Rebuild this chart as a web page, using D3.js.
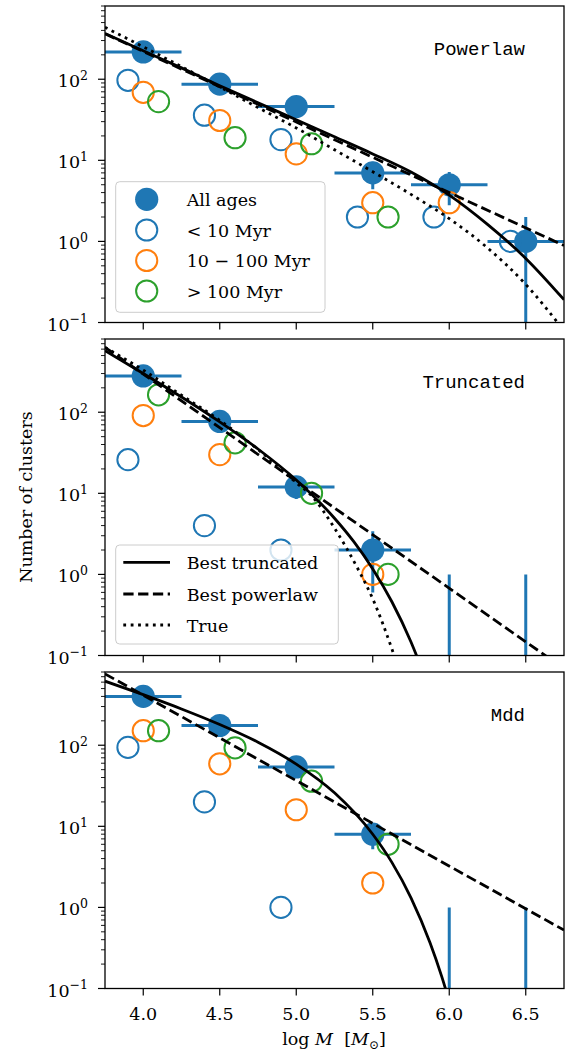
<!DOCTYPE html>
<html><head><meta charset="utf-8">
<script src="https://cdn.jsdelivr.net/npm/d3@7"></script>
<style>body{margin:0;background:#fff} svg{display:block} text{white-space:pre}</style>
</head><body>
<svg id="chart" width="566" height="1055"></svg>
<script>
// ---------------- data ----------------
const massBins = [4.0, 4.5, 5.0, 5.5, 6.0, 6.5];
const binHalfWidth = 0.25;
const ageOffsets = [-0.1, 0.0, 0.1];
const panelNames = ["Powerlaw", "Truncated", "Mdd"];
const xTicks = [4.0, 4.5, 5.0, 5.5, 6.0, 6.5];
const xDomain = [3.75, 6.75];
const yDomain = [0.1, 800];
const yMajorTicks = [0.1, 1, 10, 100];
const yTickExponents = ["\u22121", "0", "1", "2"];
const ageLabels = ["All ages", "< 10 Myr", "10 \u2212 100 Myr", "> 100 Myr"];
const fitLabels = ["Best truncated", "Best powerlaw", "True"];

// Powerlaw panel
const powerlawAll   = [217, 87, 46, 7, 5, 1];
const powerlawErr   = [14.7, 9.3, 6.8, 2.6, 2.2, 1];
const powerlawYoung = [97, 36, 18, 2, 2, 1];
const powerlawMid   = [69, 31, 12, 3, 3, 0];
const powerlawOld   = [53, 19, 16, 2, 0, 0];
const powerlawTruncX = [3.75, 4.0, 4.25, 4.5, 4.75, 5.0, 5.25, 5.5, 5.75, 6.0, 6.25, 6.5, 6.75];
const powerlawTruncY = [367, 224, 138, 83.2, 51.3, 31.6, 19.5, 12.0, 7.16, 3.72, 1.62, 0.617, 0.191];
const powerlawPowX = [3.75, 6.75];
const powerlawPowY = [363, 0.89];
const powerlawTrueX = [3.75, 4.0, 4.25, 4.5, 4.75, 5.0, 5.25, 5.5, 5.75, 6.0, 6.25, 6.5, 6.75];
const powerlawTrueY = [437, 251, 143, 80.4, 44.7, 25.1, 13.5, 7.24, 3.80, 1.91, 0.832, 0.295, 0.0794];

// Truncated panel
const truncAll   = [280, 77, 12, 2, 0, 0];
const truncErr   = [16.7, 8.8, 3.5, 1.4, 1, 1];
const truncYoung = [26, 4, 2, 0, 0, 0];
const truncMid   = [91, 30, 0, 1, 0, 0];
const truncOld   = [164, 42, 10, 1, 0, 0];
const truncTruncX = [3.75, 4.0, 4.25, 4.5, 4.75, 5.0, 5.25, 5.375, 5.5, 5.625, 5.75, 5.85];
const truncTruncY = [575, 301, 154, 75.9, 35.2, 14.6, 4.93, 2.55, 1.17, 0.46, 0.147, 0.0486];
const truncPowX = [3.75, 6.75];
const truncPowY = [631, 0.069];
const truncTrueX = [3.75, 4.0, 4.25, 4.5, 4.75, 5.0, 5.1, 5.25, 5.4, 5.5, 5.636, 5.7];
const truncTrueY = [631, 331, 162, 79.4, 34.7, 13.5, 9.33, 3.72, 1.20, 0.50, 0.105, 0.045];

// Mdd panel
const mddAll   = [400, 175, 54, 8, 0, 0];
const mddErr   = [20, 13.2, 7.3, 2.8, 1, 1];
const mddYoung = [94, 20, 1, 0, 0, 0];
const mddMid   = [151, 59, 16, 2, 0, 0];
const mddOld   = [151, 93, 36, 6, 0, 0];
const mddTruncX = [3.75, 4.0, 4.25, 4.5, 4.75, 5.0, 5.25, 5.5, 5.625, 5.75, 5.875, 5.95, 6.0];
const mddTruncY = [617, 420, 280, 180, 109, 58.6, 25.9, 7.98, 3.59, 1.31, 0.363, 0.142, 0.0697];
const mddPowX = [3.75, 6.75];
const mddPowY = [759, 0.525];

// ---------------- drawing ----------------
const panels = [
  {name: panelNames[0], all: powerlawAll, err: powerlawErr, ages: [powerlawYoung, powerlawMid, powerlawOld],
   curves: [[powerlawTruncX, powerlawTruncY, "solid"], [powerlawPowX, powerlawPowY, "dashed"], [powerlawTrueX, powerlawTrueY, "dotted"]], legend: "ages"},
  {name: panelNames[1], all: truncAll, err: truncErr, ages: [truncYoung, truncMid, truncOld],
   curves: [[truncTruncX, truncTruncY, "solid"], [truncPowX, truncPowY, "dashed"], [truncTrueX, truncTrueY, "dotted"]], legend: "fits"},
  {name: panelNames[2], all: mddAll, err: mddErr, ages: [mddYoung, mddMid, mddOld],
   curves: [[mddTruncX, mddTruncY, "solid"], [mddPowX, mddPowY, "dashed"]], legend: null}
];

const ageColors = ["#1f77b4", "#ff7f0e", "#2ca02c"];
const blue = "#1f77b4";
const serif = "'DejaVu Serif', serif";
const mono = "'Liberation Mono', monospace";
const fs = 17.5;
const left = 105, right = 564;
const panelTops = [6, 339, 672];
const panelH = 316.5;
const lw = 2.8;
const dashStyles = {solid: null, dashed: "10.3,4.5", dotted: "2.8,4.6"};

const svg = d3.select("#chart");
svg.append("rect").attr("width", 566).attr("height", 1055).attr("fill", "#fff");
const x = d3.scaleLinear().domain(xDomain).range([left, right]);

panels.forEach((P, pi) => {
  const top = panelTops[pi], bot = top + panelH;
  const y = d3.scaleLog().domain(yDomain).range([bot, top]);
  const g = svg.append("g");
  const clipId = "clip" + pi;
  svg.append("clipPath").attr("id", clipId).append("rect")
    .attr("x", left).attr("y", top).attr("width", right - left).attr("height", panelH);
  const plot = g.append("g").attr("clip-path", `url(#${clipId})`);

  // error bars
  massBins.forEach((m, i) => {
    const v = P.all[i], e = P.err[i];
    const hi = v + e, lo = v - e;
    const yHi = y(hi);
    const yLo = lo > 0 ? y(lo) : bot + 10;
    plot.append("line").attr("x1", x(m)).attr("x2", x(m)).attr("y1", yLo).attr("y2", yHi)
      .attr("stroke", blue).attr("stroke-width", 3);
    if (v > 0) {
      plot.append("line").attr("x1", x(m - binHalfWidth)).attr("x2", x(m + binHalfWidth))
        .attr("y1", y(v)).attr("y2", y(v)).attr("stroke", blue).attr("stroke-width", 3);
    }
  });
  // filled markers
  massBins.forEach((m, i) => {
    const v = P.all[i];
    if (v > 0) plot.append("circle").attr("cx", x(m)).attr("cy", y(v)).attr("r", 11.6).attr("fill", blue);
  });
  // open markers per age group
  P.ages.forEach((arr, k) => {
    massBins.forEach((m, i) => {
      const v = arr[i];
      if (v > 0) plot.append("circle").attr("cx", x(m + ageOffsets[k])).attr("cy", y(v)).attr("r", 10.6)
        .attr("fill", "none").attr("stroke", ageColors[k]).attr("stroke-width", 2);
    });
  });
  // curves
  const line = d3.line().x(d => x(d[0])).y(d => y(d[1])).curve(d3.curveMonotoneX);
  P.curves.forEach(([xs, ys, style]) => {
    const pts = xs.map((xv, i) => [xv, ys[i]]);
    const path = plot.append("path").attr("d", line(pts)).attr("fill", "none")
      .attr("stroke", "#000").attr("stroke-width", lw);
    if (dashStyles[style]) path.attr("stroke-dasharray", dashStyles[style]);
  });

  // spines
  g.append("rect").attr("x", left).attr("y", top).attr("width", right - left).attr("height", panelH)
    .attr("fill", "none").attr("stroke", "#000").attr("stroke-width", 1.3);

  // x ticks
  xTicks.forEach(t => {
    g.append("line").attr("x1", x(t)).attr("x2", x(t)).attr("y1", bot).attr("y2", bot + 7)
      .attr("stroke", "#000").attr("stroke-width", 1.2);
    if (pi === 2) {
      g.append("text").attr("x", x(t)).attr("y", bot + 31.5).attr("text-anchor", "middle")
        .style("font-family", serif).style("font-size", fs + "px").text(t.toFixed(1));
    }
  });
  // y ticks
  yMajorTicks.forEach((t, k) => {
    g.append("line").attr("x1", left - 7).attr("x2", left).attr("y1", y(t)).attr("y2", y(t))
      .attr("stroke", "#000").attr("stroke-width", 1.2);
    const lab = g.append("text").attr("x", 88).attr("y", y(t) + 8).attr("text-anchor", "end")
      .style("font-family", serif).style("font-size", fs + "px");
    lab.append("tspan").text("10");
    lab.append("tspan").attr("dy", -7.5).style("font-size", "12.5px").text(yTickExponents[k]);
  });
  yMajorTicks.forEach(t => {
    for (let j = 2; j <= 9; j++) {
      const v = t * j;
      if (v > yDomain[1]) continue;
      g.append("line").attr("x1", left - 4).attr("x2", left).attr("y1", y(v)).attr("y2", y(v))
        .attr("stroke", "#000").attr("stroke-width", 0.9);
    }
  });

  // panel name
  g.append("text").attr("x", 525).attr("y", top + 49).attr("text-anchor", "end")
    .style("font-family", mono).style("font-size", "19px").text(P.name);

  // legends
  if (P.legend === "ages") {
    const lg = g.append("g");
    lg.append("rect").attr("x", 115.7).attr("y", 181.7).attr("width", 209.3).attr("height", 130.6)
      .attr("rx", 4).attr("fill", "#fff").attr("fill-opacity", 0.8).attr("stroke", "#cccccc").attr("stroke-width", 1);
    const rows = [199.3, 230, 260.5, 291];
    rows.forEach((ry, k) => {
      if (k === 0) lg.append("circle").attr("cx", 146.7).attr("cy", ry).attr("r", 11.6).attr("fill", blue);
      else lg.append("circle").attr("cx", 146.7).attr("cy", ry).attr("r", 10.6).attr("fill", "none")
        .attr("stroke", ageColors[k - 1]).attr("stroke-width", 2);
      lg.append("text").attr("x", 186.7).attr("y", ry + 6.5).style("font-family", serif)
        .style("font-size", fs + "px").text(ageLabels[k]);
    });
  } else if (P.legend === "fits") {
    const lg = g.append("g");
    lg.append("rect").attr("x", 115.7).attr("y", 545).attr("width", 222.6).attr("height", 99)
      .attr("rx", 4).attr("fill", "#fff").attr("fill-opacity", 0.8).attr("stroke", "#cccccc").attr("stroke-width", 1);
    const rows = [562.3, 594, 625];
    const styles = ["solid", "dashed", "dotted"];
    rows.forEach((ry, k) => {
      const l = lg.append("line").attr("x1", 123.3).attr("x2", 170).attr("y1", ry).attr("y2", ry)
        .attr("stroke", "#000").attr("stroke-width", lw);
      if (dashStyles[styles[k]]) l.attr("stroke-dasharray", dashStyles[styles[k]]);
      lg.append("text").attr("x", 186.7).attr("y", ry + 6.5).style("font-family", serif)
        .style("font-size", fs + "px").text(fitLabels[k]);
    });
  }
});

// axis labels
const xl = svg.append("text").attr("x", 334).attr("y", 1045).attr("text-anchor", "middle")
  .style("font-family", serif).style("font-size", fs + "px");
xl.append("tspan").text("log ");
xl.append("tspan").style("font-style", "italic").text("M");
xl.append("tspan").text("  [");
xl.append("tspan").style("font-style", "italic").text("M");
xl.append("tspan").attr("dy", 4).style("font-size", "12px").text("\u2299");
xl.append("tspan").attr("dy", -4).text("]");

svg.append("text").attr("transform", "translate(32,497) rotate(-90)").attr("text-anchor", "middle")
  .style("font-family", serif).style("font-size", fs + "px").text("Number of clusters");
</script>
</body></html>
